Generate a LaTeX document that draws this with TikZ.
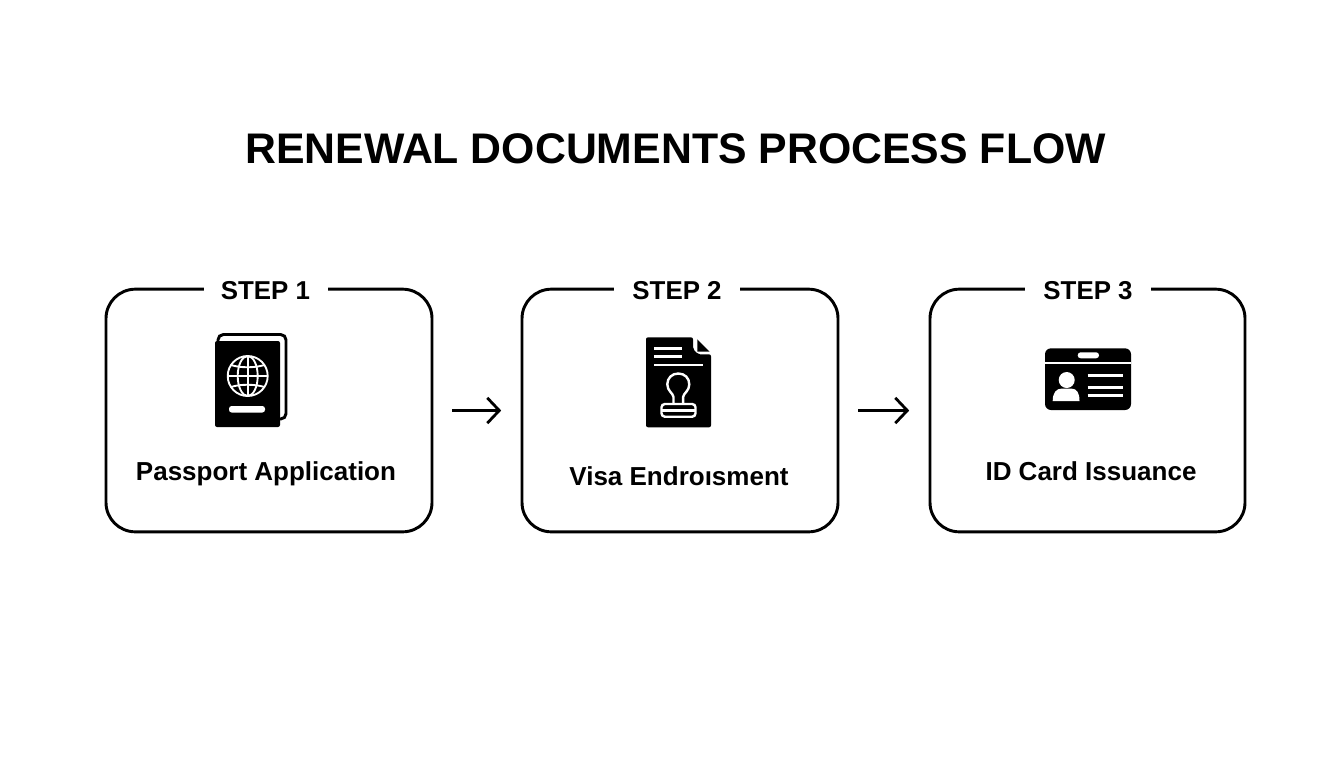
\documentclass[tikz,border=0pt]{standalone}
\usepackage{fontspec}
\setmainfont{Liberation Sans}
\usetikzlibrary{arrows.meta}

\tikzset{
	stepbox/.style={draw, line width=2.2pt, rounded corners=22pt, minimum height=182pt},
	steplabel/.style={fill=white, inner sep=0pt, minimum height=16pt, font=\fontsize{19.4}{23}\selectfont\bfseries},
	caption/.style={inner sep=0pt, font=\fontsize{19.5}{23}\selectfont\bfseries},
	flow/.style={line width=2.1pt, -{Straight Barb[length=9pt,width=19pt,line width=2.1pt]}, shorten <=14pt, shorten >=14.5pt},
	cutout/.style={draw=white, line width=1.4pt},
	cutbar/.style={draw=white, line width=2.1pt},
}

\begin{document}
\begin{tikzpicture}[x=0.75pt, y=-0.75pt]
	\useasboundingbox (0,0) rectangle (1344,768);

	\node[inner sep=0pt, font=\fontsize{32.1}{38}\selectfont\bfseries] (title) at (675.5,149) {RENEWAL DOCUMENTS PROCESS FLOW};

	\node[stepbox, minimum width=244.5pt] (box1) at (269,410.5) {};
	\node[stepbox, minimum width=237pt] (box2) at (680,410.5) {};
	\node[stepbox, minimum width=236.25pt] (box3) at (1087.5,410.5) {};

	\node[steplabel, minimum width=93pt] (step1) at (265.5,290.5) {STEP 1};
	\node[steplabel, minimum width=94.5pt] (step2) at (677,290.5) {STEP 2};
	\node[steplabel, minimum width=94.5pt] (step3) at (1088,290.5) {STEP 3};

	\node[caption] (cap1) at (266,473.5) {Passport Application};
	\node[caption] (cap2) at (679,476.5) {Visa Endroısment};
	\node[caption] (cap3) at (1091,471) {ID Card Issuance};

	\draw[flow] (box1) -- (box2);
	\draw[flow] (box2) -- (box3);

	% passport
	\draw[line width=2.2pt, rounded corners=4pt] (218,341) -- (218,334.5) -- (286,334.5) -- (286,419) -- (279,419);
	\fill[rounded corners=1.5pt] (215,341) -- (280,341) -- (280,427) -- (215,427) -- cycle;
	\draw[cutout] (247.7,376) circle (20);
	\draw[cutout] (247.7,376) ellipse (10 and 20);
	\draw[cutout] (247.7,356) -- (247.7,396);
	\draw[cutout] (227.7,376) -- (267.7,376);
	\draw[cutout] (231,365) .. controls (240,368) and (255,368) .. (264.4,365);
	\draw[cutout] (231,387) .. controls (240,384) and (255,384) .. (264.4,387);
	\fill[white, rounded corners=2pt] (229,406) rectangle (265,412.5);

	% visa document
	\fill[rounded corners=1.5pt] (646,337.3) -- (693,337.3) -- (693,349) -- (698,354.3) -- (711,354.3) -- (711,427.3) -- (646,427.3) -- cycle;
	\fill (697.3,339.3) -- (709.5,351.7) -- (697.3,351.7) -- cycle;
	\draw[cutbar] (654,348.3) -- (682.3,348.3);
	\draw[cutbar] (654,356.7) -- (682.3,356.7);
	\draw[cutbar] (654,365) -- (703,365);
	\draw[cutout, line width=1.8pt] (673.5,404) -- (673.5,397) .. controls (673,393) and (667.3,391) .. (667.3,384.3) .. controls (667.3,378) and (672,373.5) .. (678.3,373.5) .. controls (684.6,373.5) and (689.3,378) .. (689.3,384.3) .. controls (689.3,391) and (683.6,393) .. (683.1,397) -- (683.1,404);
	\draw[cutout, line width=1.8pt, rounded corners=2.5pt] (661.5,404) rectangle (695.5,416.7);
	\draw[cutout, line width=1.8pt] (661.5,410.3) -- (695.5,410.3);

	% id card
	\fill[rounded corners=4.5pt] (1045,348.3) rectangle (1131,410);
	\draw[cutout, line width=1.6pt] (1045,363.3) -- (1131,363.3);
	\fill[white, rounded corners=2.2pt] (1077.7,352.3) rectangle (1099,358.3);
	\fill[white] (1066.7,380) circle (8);
	\fill[white] (1052.7,401) .. controls (1052.7,393) and (1056,388.5) .. (1062,388.5) -- (1071,388.5) .. controls (1077,388.5) and (1079.5,393) .. (1079.5,401) -- cycle;
	\draw[cutbar] (1087.7,375.7) -- (1123.3,375.7);
	\draw[cutbar] (1087.7,387.3) -- (1123.3,387.3);
	\draw[cutbar] (1087.7,395.3) -- (1123.3,395.3);
\end{tikzpicture}
\end{document}
